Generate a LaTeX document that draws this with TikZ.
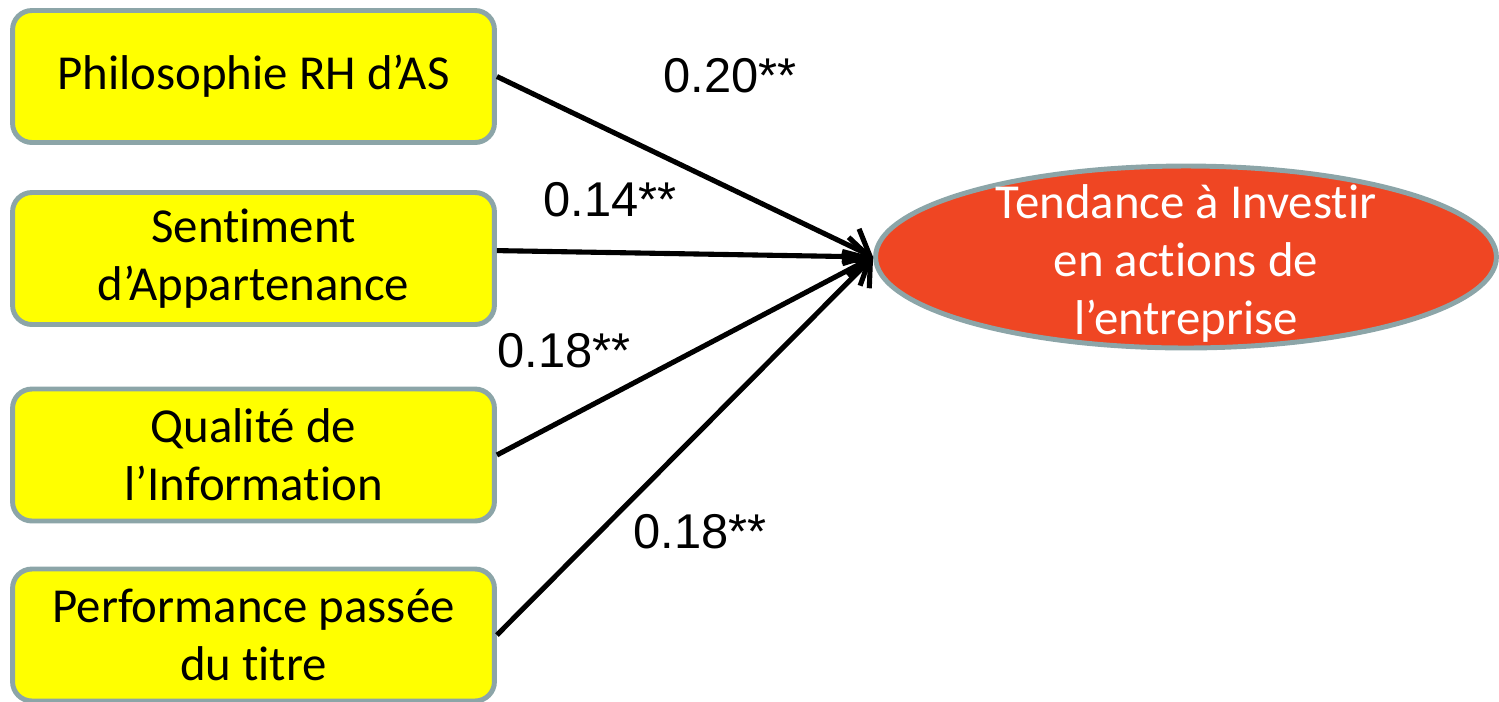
\documentclass[tikz,border=0pt]{standalone}
\usepackage{fontspec}
\setmainfont{Carlito}[Ligatures=NoCommon]
\newfontfamily\numfont{Liberation Sans}
\usepackage{tikz}
\usetikzlibrary{arrows.meta,shapes,positioning}
\definecolor{boxyellow}{RGB}{255,255,0}
\definecolor{boxedge}{RGB}{140,165,168}
\definecolor{targetred}{RGB}{239,70,35}

\begin{document}
\begin{tikzpicture}[x=0.02cm,y=-0.02cm,>={Straight Barb[length=12pt,width=22pt]},
every node/.style = {align=center, text centered,
    font=\fontsize{27.8}{33}\selectfont},
factor/.style={rectangle, rounded corners=11pt, draw=boxedge, line width=2.8pt,
    fill=boxyellow, minimum width=9.64cm, minimum height=2.64cm, inner sep=0pt},
target/.style={ellipse, draw=boxedge, line width=2.8pt, fill=targetred,
    minimum width=12.42cm, minimum height=3.64cm, inner sep=0pt},
coef/.style={font=\numfont\fontsize{27.8}{33}\selectfont},
effect/.style={->, line width=2.9pt, black}]
\useasboundingbox (0,0) rectangle (1499,701);
\node[factor] (philo) at (253.5,76.5) {Philosophie RH d’AS};
\node[factor] (sent) at (253.5,258.5) {Sentiment\\d’Appartenance};
\node[factor] (qual) at (253.5,455) {Qualité de\\l’Information};
\node[factor] (perf) at (253.5,635) {Performance passée\\du titre};
\node[target] (tend) at (1186,257) {};
\node[text=white] (tendtxt) at ([yshift=-3.7pt]tend.center) {Tendance à Investir\\en actions de\\l’entreprise};
\node[coef] (c1) at (730,76) {0.20**};
\node[coef] (c2) at (610,200) {0.14**};
\node[coef] (c3) at (564,351) {0.18**};
\node[coef] (c4) at (700,532) {0.18**};
\draw[effect] (philo.east) -- (tend.west);
\draw[effect] ([yshift=4.5pt]sent.east) -- (tend.west);
\draw[effect] (qual.east) -- (tend.west);
\draw[effect] (perf.east) -- (tend.west);
\end{tikzpicture}
\end{document}
